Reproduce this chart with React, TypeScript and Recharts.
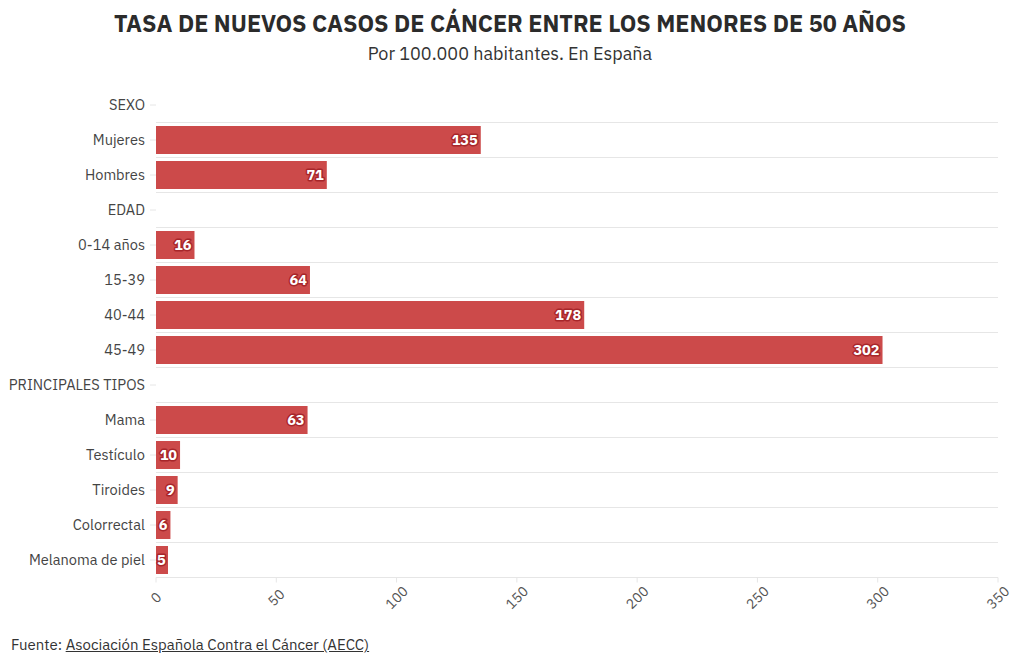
import { BarChart, Bar, XAxis, YAxis, CartesianGrid, LabelList } from "recharts";

const categories = [
    'SEXO', 'Mujeres', 'Hombres',
    'EDAD', '0-14 años', '15-39', '40-44', '45-49',
    'PRINCIPALES TIPOS', 'Mama', 'Testículo', 'Tiroides', 'Colorrectal', 'Melanoma de piel',
]
const values: (number | null)[] = [
    null, 135, 71,
    null, 16, 64, 178, 302,
    null, 63, 10, 9, 6, 5,
]
const xTicks = [0, 50, 100, 150, 200, 250, 300, 350]

const FONT = "'IBM Plex Sans', Roboto, 'Noto Sans', sans-serif"
const BAR = '#cc4a4a'

const data = categories.map((name, i) => ({ name, value: values[i] }))

const XTick = (props: any) => {
    const { x, y, payload } = props
    const cy = y + 13
    return (
        <text x={x} y={cy} dy={5} textAnchor="middle" fill="#555" fontSize={14} fontFamily={FONT}
            transform={`rotate(-45, ${x}, ${cy})`}>
            {payload.value}
        </text>
    )
}

// sin salto de línea en las etiquetas largas
const YTick = (props: any) => {
    const { x, y, payload } = props
    return (
        <text x={x - 3} y={y} dy={5} textAnchor="end" fill="#444" fontSize={14.6} fontFamily={FONT}>
            {payload.value}
        </text>
    )
}

const ValueLabel = (props: any) => {
    const { x, y, width, height, value } = props
    if (value == null) return null
    const txt = String(value)
    const tw = txt.length * 8.6
    const endX = Math.max(x + width - 3, x + tw + 1)
    return (
        <text x={endX} y={y + height / 2} dy={5} textAnchor="end" fontSize={14.5} fontWeight={700}
            fontFamily={FONT} fill="#fff" stroke="#a8262a" strokeWidth={3} paintOrder="stroke"
            strokeLinejoin="round">
            {txt}
        </text>
    )
}

export default function App() {
    return (
        <div style={{ position: 'relative', width: 1012, height: 648, fontFamily: FONT, color: '#333' }}>
            <div style={{ position: 'absolute', top: 0, left: 0, width: 1004, textAlign: 'center', fontSize: 23.3, fontWeight: 700, color: '#2b2b2b' }}>
                TASA DE NUEVOS CASOS DE CÁNCER ENTRE LOS MENORES DE 50 AÑOS
            </div>
            <div style={{ position: 'absolute', top: 34, left: 0, width: 1004, textAlign: 'center', fontSize: 18, color: '#333' }}>
                Por 100.000 habitantes. En España
            </div>
            <BarChart width={1012} height={648} data={data} layout="vertical"
                margin={{ top: 79.5, right: 22, bottom: 28.5, left: 0 }} barCategoryGap={3.5}>
                <CartesianGrid vertical={false} stroke="#e6e6e6"
                    horizontalCoordinatesGenerator={({ offset }: any) =>
                        categories.slice(1).map((_, i) => offset.top + (i + 1) * offset.height / categories.length)} />
                <XAxis type="number" domain={[0, 350]} ticks={xTicks} interval={0} height={50}
                    axisLine={{ stroke: '#e6e6e6' }} tickLine={{ stroke: '#e6e6e6' }} tickSize={5} tick={<XTick />} />
                <YAxis type="category" dataKey="name" width={148} axisLine={false}
                    tickLine={{ stroke: '#e6e6e6' }} tickSize={6} tick={<YTick />} />
                <Bar dataKey="value" fill={BAR} isAnimationActive={false}>
                    <LabelList dataKey="value" content={<ValueLabel />} />
                </Bar>
            </BarChart>
            <div style={{ position: 'absolute', top: 627, left: 3, fontSize: 15, color: '#333' }}>
                Fuente: <span style={{ textDecoration: 'underline' }}>Asociación Española Contra el Cáncer (AECC)</span>
            </div>
        </div>
    )
}
